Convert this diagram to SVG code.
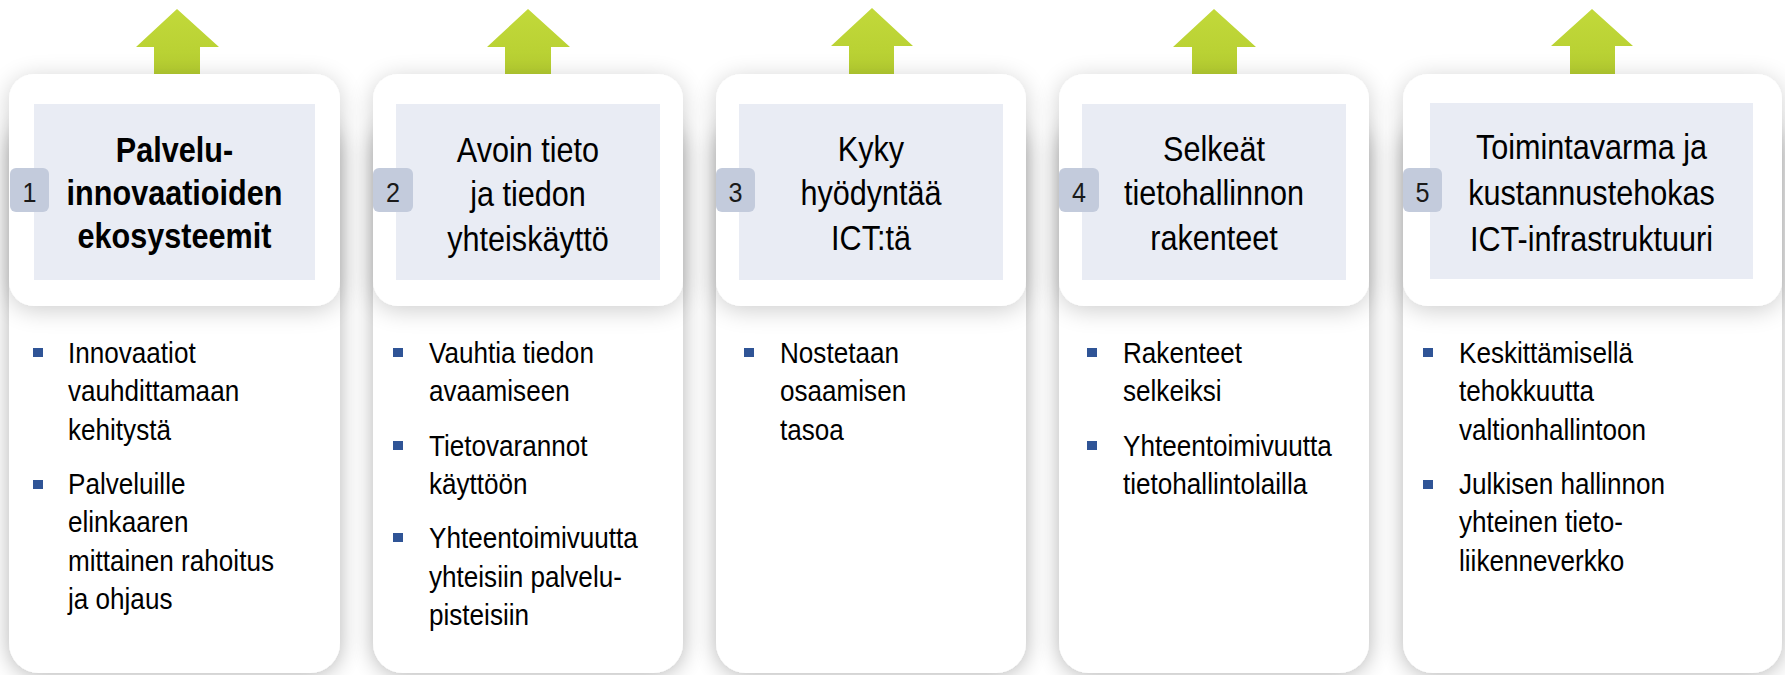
<svg xmlns="http://www.w3.org/2000/svg" width="1785" height="675" viewBox="0 0 1785 675">
<defs>
<linearGradient id="ag" x1="0" y1="0" x2="0" y2="1">
<stop offset="0" stop-color="#c2d93a"/>
<stop offset="1" stop-color="#b2cb2e"/>
</linearGradient>
<filter id="sh" x="-20%" y="-20%" width="140%" height="140%">
<feGaussianBlur in="SourceAlpha" stdDeviation="11"/>
<feOffset dx="0" dy="2" result="b"/>
<feComponentTransfer><feFuncA type="linear" slope="0.3"/></feComponentTransfer>
<feMerge><feMergeNode/><feMergeNode in="SourceGraphic"/></feMerge>
</filter>
<filter id="sh2" x="-20%" y="-30%" width="140%" height="160%">
<feGaussianBlur in="SourceAlpha" stdDeviation="12"/>
<feOffset dx="0" dy="4" result="b"/>
<feComponentTransfer><feFuncA type="linear" slope="0.2"/></feComponentTransfer>
<feMerge><feMergeNode/><feMergeNode in="SourceGraphic"/></feMerge>
</filter>
</defs>
<style>
.body{fill:#ffffff;filter:url(#sh)}
.head{fill:#ffffff;filter:url(#sh2)}
.inner{fill:#e9ecf4}
.badge{fill:#c3cbdc}
.arrow{fill:url(#ag)}
.bul{fill:#2f5496}
text{font-family:"Liberation Sans",Arial,sans-serif;fill:#000}
.h{font-size:36px;text-anchor:middle}
.hb{font-size:36px;text-anchor:middle;font-weight:bold}
.n{font-size:28px;text-anchor:middle;fill:#1a1a1a}
.b{font-size:29px}
</style>
<rect width="1785" height="675" fill="#ffffff"/>

<g id="arrows">
<path class="arrow" d="M177 9 L219 47 L200 47 L200 90 L154 90 L154 47 L136 47 Z"/>
<path class="arrow" d="M528 9 L570 47 L551 47 L551 90 L505 90 L505 47 L487 47 Z"/>
<path class="arrow" d="M872 8 L913 46 L894 46 L894 90 L849 90 L849 46 L831 46 Z"/>
<path class="arrow" d="M1214 9 L1256 47 L1237 47 L1237 90 L1192 90 L1192 47 L1173 47 Z"/>
<path class="arrow" d="M1592 9 L1633 46 L1615 46 L1615 90 L1570 90 L1570 46 L1551 46 Z"/>
</g>

<g id="card1">
<rect class="body" x="9" y="120" width="331" height="553" rx="30"/>
<rect class="head" x="9" y="74" width="331" height="232" rx="25"/>
<rect class="inner" x="34" y="104" width="281" height="176"/>
<rect class="badge" x="10" y="168" width="39" height="44" rx="6"/>
<text class="n" transform="translate(29.5 0) scale(0.9 1)"><tspan x="0" y="202">1</tspan></text>
<text class="hb" transform="translate(174.5 0) scale(0.85 1)"><tspan x="0" y="162">Palvelu-</tspan><tspan x="0" y="205">innovaatioiden</tspan><tspan x="0" y="248">ekosysteemit</tspan></text>
<rect class="bul" x="33" y="348" width="10" height="9"/>
<rect class="bul" x="33" y="480" width="10" height="9"/>
<text class="b" transform="translate(68 0) scale(0.9 1)"><tspan x="0" y="363">Innovaatiot</tspan><tspan x="0" y="401.5">vauhdittamaan</tspan><tspan x="0" y="440">kehitystä</tspan><tspan x="0" y="494">Palveluille</tspan><tspan x="0" y="532.5">elinkaaren</tspan><tspan x="0" y="571">mittainen rahoitus</tspan><tspan x="0" y="609.5">ja ohjaus</tspan></text>
</g>

<g id="card2">
<rect class="body" x="373" y="120" width="310" height="553" rx="30"/>
<rect class="head" x="373" y="74" width="310" height="232" rx="25"/>
<rect class="inner" x="396" y="104" width="264" height="176"/>
<rect class="badge" x="373" y="168" width="40" height="44" rx="6"/>
<text class="n" transform="translate(393 0) scale(0.9 1)"><tspan x="0" y="202">2</tspan></text>
<text class="h" transform="translate(528 0) scale(0.85 1)"><tspan x="0" y="162">Avoin tieto</tspan><tspan x="0" y="206.5">ja tiedon</tspan><tspan x="0" y="251">yhteiskäyttö</tspan></text>
<rect class="bul" x="393" y="348" width="10" height="9"/>
<rect class="bul" x="393" y="441" width="10" height="9"/>
<rect class="bul" x="393" y="533" width="10" height="9"/>
<text class="b" transform="translate(429 0) scale(0.9 1)"><tspan x="0" y="363">Vauhtia tiedon</tspan><tspan x="0" y="401.5">avaamiseen</tspan><tspan x="0" y="456">Tietovarannot</tspan><tspan x="0" y="494.5">käyttöön</tspan><tspan x="0" y="548.5">Yhteentoimivuutta</tspan><tspan x="0" y="587">yhteisiin palvelu-</tspan><tspan x="0" y="625.5">pisteisiin</tspan></text>
</g>

<g id="card3">
<rect class="body" x="716" y="120" width="310" height="553" rx="30"/>
<rect class="head" x="716" y="74" width="310" height="232" rx="25"/>
<rect class="inner" x="739" y="104" width="264" height="176"/>
<rect class="badge" x="716" y="168" width="39" height="44" rx="6"/>
<text class="n" transform="translate(735.5 0) scale(0.9 1)"><tspan x="0" y="202">3</tspan></text>
<text class="h" transform="translate(871 0) scale(0.85 1)"><tspan x="0" y="161">Kyky</tspan><tspan x="0" y="205.5">hyödyntää</tspan><tspan x="0" y="250">ICT:tä</tspan></text>
<rect class="bul" x="744" y="348" width="10" height="9"/>
<text class="b" transform="translate(780 0) scale(0.9 1)"><tspan x="0" y="363">Nostetaan</tspan><tspan x="0" y="401.5">osaamisen</tspan><tspan x="0" y="440">tasoa</tspan></text>
</g>

<g id="card4">
<rect class="body" x="1059" y="120" width="310" height="553" rx="30"/>
<rect class="head" x="1059" y="74" width="310" height="232" rx="25"/>
<rect class="inner" x="1082" y="104" width="264" height="176"/>
<rect class="badge" x="1059" y="168" width="40" height="44" rx="6"/>
<text class="n" transform="translate(1079 0) scale(0.9 1)"><tspan x="0" y="202">4</tspan></text>
<text class="h" transform="translate(1214 0) scale(0.85 1)"><tspan x="0" y="161">Selkeät</tspan><tspan x="0" y="205.5">tietohallinnon</tspan><tspan x="0" y="250">rakenteet</tspan></text>
<rect class="bul" x="1087" y="348" width="10" height="9"/>
<rect class="bul" x="1087" y="441" width="10" height="9"/>
<text class="b" transform="translate(1123 0) scale(0.9 1)"><tspan x="0" y="363">Rakenteet</tspan><tspan x="0" y="401.5">selkeiksi</tspan><tspan x="0" y="456">Yhteentoimivuutta</tspan><tspan x="0" y="494.5">tietohallintolailla</tspan></text>
</g>

<g id="card5">
<rect class="body" x="1403" y="120" width="379" height="553" rx="30"/>
<rect class="head" x="1403" y="74" width="379" height="232" rx="25"/>
<rect class="inner" x="1430" y="103" width="323" height="176"/>
<rect class="badge" x="1403" y="168" width="39" height="44" rx="6"/>
<text class="n" transform="translate(1422.5 0) scale(0.9 1)"><tspan x="0" y="202">5</tspan></text>
<text class="h" transform="translate(1591.5 0) scale(0.85 1)"><tspan x="0" y="159.5">Toimintavarma ja</tspan><tspan x="0" y="205.5">kustannustehokas</tspan><tspan x="0" y="251.5">ICT-infrastruktuuri</tspan></text>
<rect class="bul" x="1423" y="348" width="10" height="9"/>
<rect class="bul" x="1423" y="480" width="10" height="9"/>
<text class="b" transform="translate(1459 0) scale(0.9 1)"><tspan x="0" y="363">Keskittämisellä</tspan><tspan x="0" y="401.5">tehokkuutta</tspan><tspan x="0" y="440">valtionhallintoon</tspan><tspan x="0" y="494">Julkisen hallinnon</tspan><tspan x="0" y="532.5">yhteinen tieto-</tspan><tspan x="0" y="571">liikenneverkko</tspan></text>
</g>
</svg>
